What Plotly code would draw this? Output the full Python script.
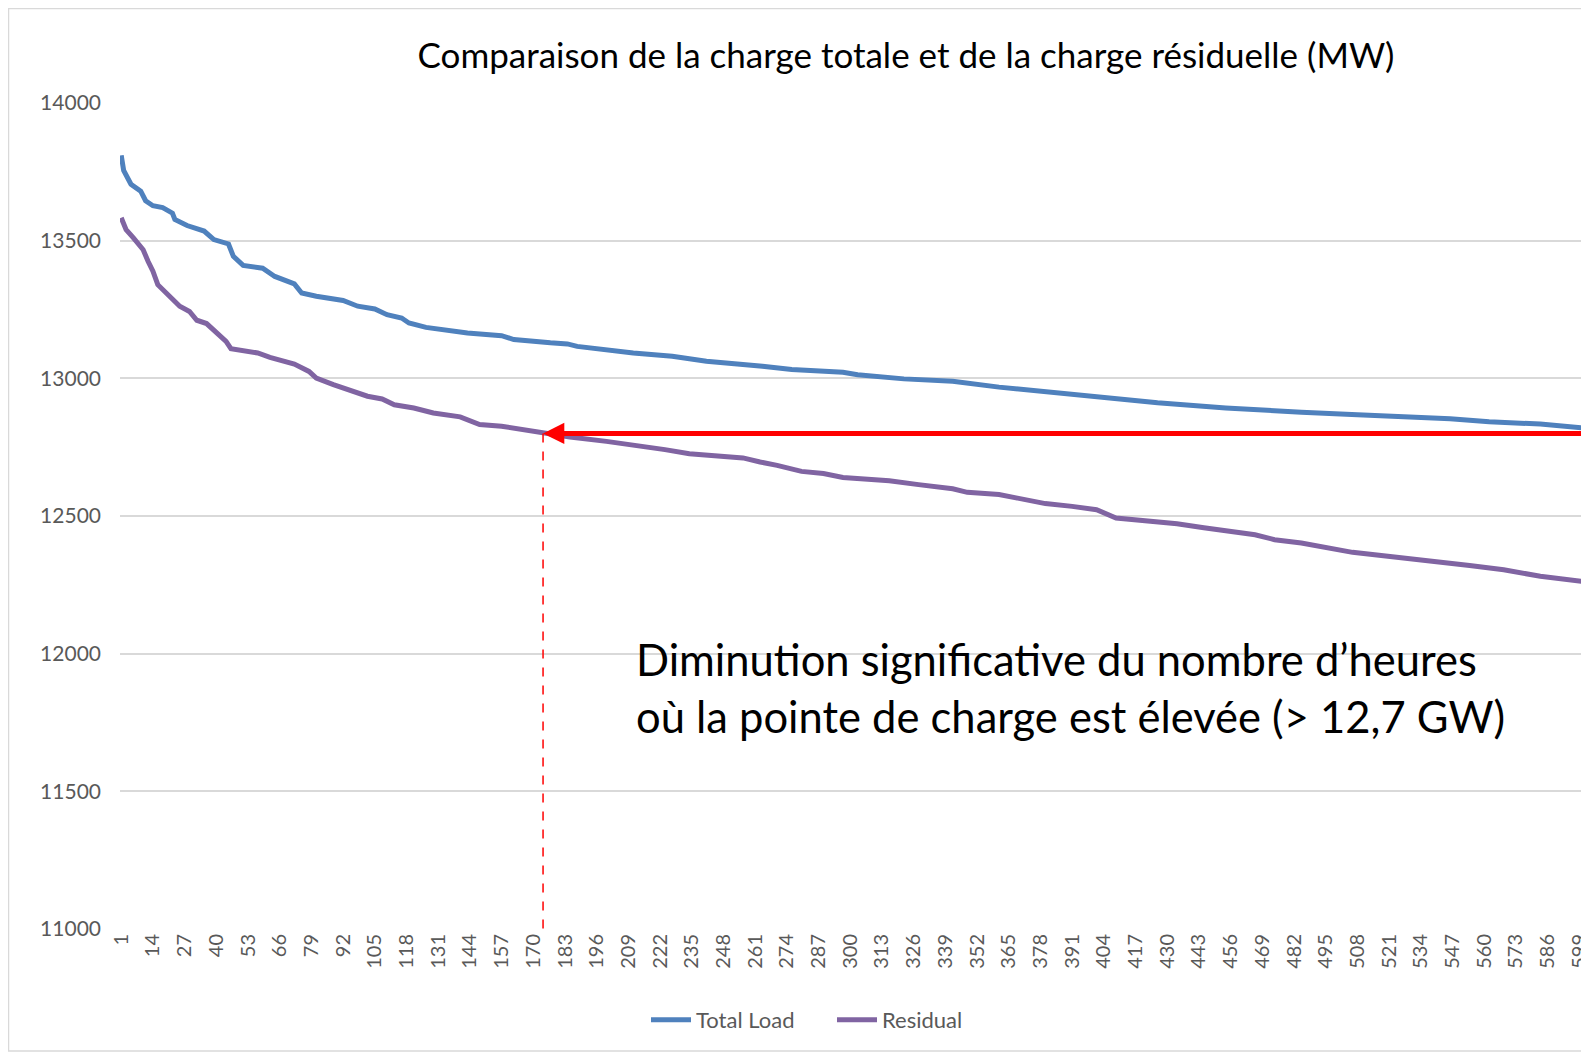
import plotly.graph_objects as go

# ---------------- data ----------------
total_hours = [1, 2, 5, 9, 11, 14, 18, 22, 23, 28, 35, 39, 45, 47, 51, 59, 64, 72, 75, 81,
               92, 98, 105, 110, 116, 119, 126, 143, 157, 162, 177, 184, 188, 211, 227, 241,
               264, 276, 297, 303, 322, 342, 361, 384, 403, 426, 454, 469, 485, 508, 531,
               546, 562, 583, 600]
total_load = [13810, 13755, 13705, 13680, 13645, 13627, 13620, 13600, 13577, 13555, 13535,
              13504, 13488, 13443, 13410, 13400, 13370, 13343, 13310, 13298, 13283, 13262,
              13252, 13231, 13219, 13201, 13185, 13165, 13155, 13141, 13129, 13125, 13116,
              13092, 13080, 13062, 13044, 13032, 13022, 13013, 12998, 12989, 12968, 12947,
              12929, 12911, 12892, 12884, 12877, 12868, 12860, 12853, 12842, 12834, 12820]

resid_hours = [1, 3, 6, 10, 12, 14, 16, 21, 25, 29, 32, 36, 40, 44, 46, 57, 62, 72, 78, 81,
               88, 96, 102, 108, 113, 121, 129, 140, 148, 157, 165, 174, 185, 200, 217, 224,
               234, 246, 256, 263, 270, 280, 289, 297, 316, 328, 342, 348, 361, 368, 380,
               391, 401, 409, 423, 434, 445, 466, 474, 485, 506, 522, 540, 554, 568, 583, 600]
residual = [13583, 13540, 13510, 13467, 13425, 13389, 13340, 13298, 13262, 13243, 13211,
            13199, 13165, 13134, 13108, 13092, 13076, 13052, 13025, 13001, 12977, 12953,
            12935, 12925, 12904, 12892, 12874, 12860, 12832, 12826, 12814, 12802, 12787,
            12771, 12753, 12741, 12726, 12717, 12711, 12696, 12684, 12662, 12654, 12640,
            12628, 12614, 12599, 12586, 12578, 12566, 12545, 12535, 12523, 12493, 12483,
            12472, 12457, 12432, 12414, 12402, 12368, 12353, 12335, 12320, 12305, 12281,
            12263]

x_tick_labels = [1, 14, 27, 40, 53, 66, 79, 92, 105, 118, 131, 144, 157, 170, 183, 196, 209,
                 222, 235, 248, 261, 274, 287, 300, 313, 326, 339, 352, 365, 378, 391, 404,
                 417, 430, 443, 456, 469, 482, 495, 508, 521, 534, 547, 560, 573, 586, 599]
y_tick_labels = [11000, 11500, 12000, 12500, 13000, 13500, 14000]

threshold_mw = 12800      # level of the red arrow
crossing_hour = 174       # hour where residual crosses the level
arrow_tail_hour = 604

title_text = "Comparaison de la charge totale et de la charge résiduelle (MW)"
note_text = "Diminution significative du nombre d’heures<br>où la pointe de charge est élevée (> 12,7 GW)"

# ---------------- figure ----------------
# page body has an 8px margin, so the figure's own origin is at (8, 8) of the window
OFF = 8
W, H = 1580, 1044
L, R, T, B = 112, 5, 95, 123
pw, ph = W - L - R, H - T - B

def px_x(p):   # window pixel -> paper x
    return (p - OFF - L) / pw

def px_y(p):   # window pixel -> paper y
    return (H - B - (p - OFF)) / ph

FONT = "Lato"
GRAY = "#595959"

fig = go.Figure()
fig.add_trace(go.Scatter(x=total_hours, y=total_load, mode="lines", name="Total Load",
                         line=dict(color="#4F81BD", width=5)))
fig.add_trace(go.Scatter(x=resid_hours, y=residual, mode="lines", name="Residual",
                         line=dict(color="#8064A2", width=5)))

fig.update_layout(
    width=W, height=H,
    margin=dict(l=L, r=R, t=T, b=B, autoexpand=False),
    paper_bgcolor="white", plot_bgcolor="white",
    font=dict(family=FONT, color=GRAY),
    title=dict(text=title_text, x=px_x(906), xref="paper", xanchor="center",
               y=1 - (56 - OFF) / H, yref="container", yanchor="middle",
               font=dict(family=FONT, size=35, color="#000000")),
    showlegend=True,
    legend=dict(orientation="h", x=px_x(832), xanchor="center", y=px_y(1020), yanchor="middle",
                font=dict(family=FONT, size=22, color=GRAY), itemwidth=40,
                entrywidth=131, bgcolor="rgba(0,0,0,0)"),
)

fig.update_xaxes(range=[0.5, 600.5], tickmode="array", tickvals=x_tick_labels,
                 ticktext=[str(v) for v in x_tick_labels], tickangle=-90,
                 tickfont=dict(family=FONT, size=20, color=GRAY), ticklabeloverflow="allow",
                 showgrid=False, zeroline=False, showline=False, ticks="")
fig.update_yaxes(range=[11000, 14000], tickmode="array", tickvals=y_tick_labels,
                 ticktext=[str(v) for v in y_tick_labels],
                 tickfont=dict(family=FONT, size=21, color=GRAY),
                 showgrid=True, gridcolor="#D9D9D9", gridwidth=1.5, zeroline=False,
                 showline=False, ticks="", ticklabelstandoff=18)

# red dashed vertical
fig.add_shape(type="line", xref="x", yref="y", x0=crossing_hour, x1=crossing_hour,
              y0=threshold_mw, y1=11000, line=dict(color="#FF0000", width=1.5, dash="dash"))
# red arrow
fig.add_annotation(x=crossing_hour, y=threshold_mw, ax=arrow_tail_hour, ay=threshold_mw,
                   xref="x", yref="y", axref="x", ayref="y", text="", showarrow=True,
                   arrowhead=2, arrowsize=0.85, arrowwidth=5, arrowcolor="#FF0000",
                   standoff=0, startstandoff=0)
# note text
fig.add_annotation(x=px_x(634), y=px_y(687), xref="paper", yref="paper", xanchor="left",
                   yanchor="middle", align="left", showarrow=False, text=note_text,
                   font=dict(family=FONT, size=43.5, color="#000000"))

# chart frame
fig.add_shape(type="rect", xref="paper", yref="paper", x0=px_x(8.5), x1=px_x(1620),
              y0=px_y(1051), y1=px_y(8.5), line=dict(color="#D9D9D9", width=1.5),
              fillcolor="rgba(0,0,0,0)", layer="below")

fig.write_html("out.html")
